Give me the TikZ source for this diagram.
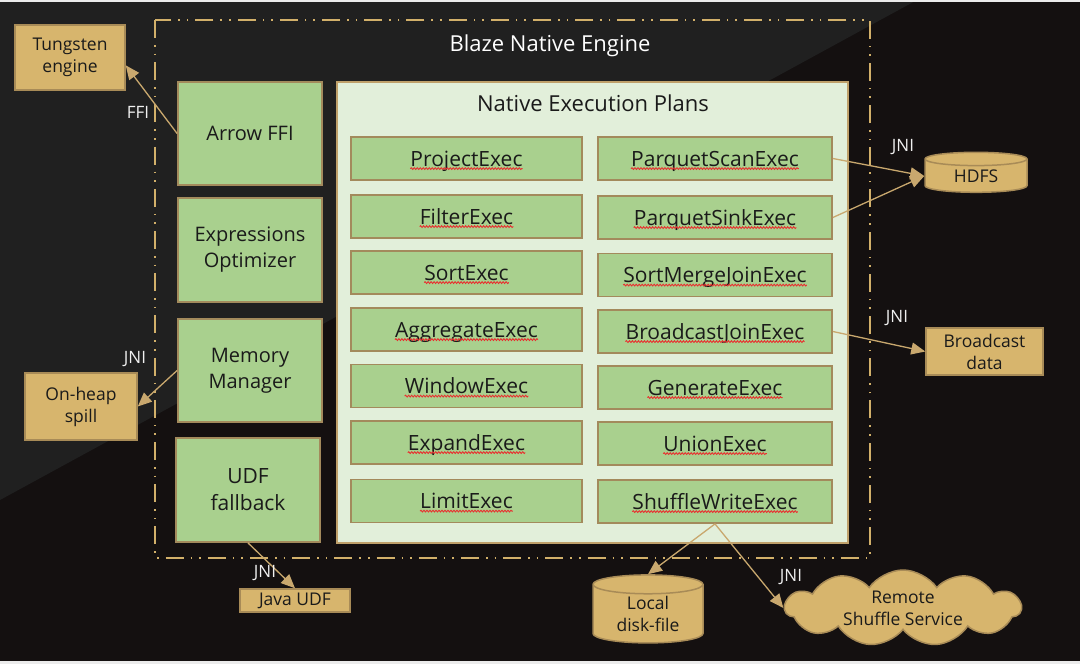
\documentclass[tikz,border=0pt]{standalone}
\usepackage{fontspec}
\setmainfont{Open Sans}
\usetikzlibrary{shapes.geometric,shapes.symbols,arrows.meta,decorations.pathmorphing,calc}
\definecolor{bgdark}{HTML}{141010}
\definecolor{bglight}{HTML}{202020}
\definecolor{tanline}{HTML}{C9A86E}
\definecolor{tanfill}{HTML}{D7B56D}
\definecolor{tanborder}{HTML}{A88B57}
\definecolor{gfill}{HTML}{A9D08E}
\definecolor{gborder}{HTML}{A38A5C}
\definecolor{panelfill}{HTML}{E2EFDA}
\definecolor{panelborder}{HTML}{BFA06A}
\definecolor{frame}{HTML}{D2B06A}
\definecolor{txt}{HTML}{1A1A1A}
\definecolor{lbl}{HTML}{F0F0F0}
\definecolor{squigred}{HTML}{E83030}
\newcommand\execnode[3]{%
  \node[ebox] (#1) at (#2) {};
  \node[etext] (#1-t) at (#1.center) {#3};
  \draw[squig] ([yshift=-2.6pt]#1-t.base west) -- ([yshift=-2.6pt]#1-t.base east);
}
\tikzset{
  gbox/.style={draw=gborder, fill=gfill, line width=1.8pt, minimum width=144pt, minimum height=103pt, inner sep=0pt, align=center, text=txt, font=\fontsize{20}{26}\selectfont},
  ebox/.style={draw=gborder, fill=gfill, line width=1.8pt, minimum height=43pt, inner sep=0pt},
  etext/.style={inner sep=0pt, text=txt, font=\fontsize{21}{25}\selectfont, text height=15pt, text depth=0pt},
  squig/.style={draw=squigred, line width=0.9pt, decorate, decoration={snake, amplitude=0.9pt, segment length=3pt}},
  tbox/.style={draw=tanborder, fill=tanfill, line width=1.5pt, inner sep=0pt, align=center, text=txt, font=\fontsize{17.5}{22}\selectfont},
  conn/.style={draw=tanline, line width=1.3pt, -{Triangle[length=14pt,width=12pt]}},
  lab/.style={text=lbl, font=\fontsize{17}{20}\selectfont, inner sep=0pt},
  enginebox/.style={draw=frame, line width=1.6pt, dash pattern=on 18pt off 7pt on 1.6pt off 7pt on 1.6pt off 7pt},
}
\begin{document}
\begin{tikzpicture}[x=1pt,y=-1pt]
\useasboundingbox (0,0) rectangle (1080,664);
% background
\fill[bgdark] (0,0) rectangle (1080,664);
\fill[bglight] (0,0) -- (917,0) -- (0,500) -- cycle;
\fill[white!92!black] (0,0) rectangle (1080,1.5);
\fill[white!92!black] (0,661) rectangle (1080,664);
% engine frame
\draw[enginebox] (155,20) rectangle (870,558);
\node[text=white, font=\fontsize{22}{26}\selectfont] (title) at (550,46) {Blaze Native Engine};
% panel
\node[draw=panelborder, fill=panelfill, line width=1.8pt, minimum width=511pt, minimum height=461pt, inner sep=0pt] (panel) at (592.5,312.5) {};
\node[text=txt, font=\fontsize{22}{26}\selectfont] (ptitle) at (593,103) {Native Execution Plans};
% left column
\node[gbox] (affi) at (250,133.5) {Arrow FFI};
\node[gbox, minimum height=104pt] (expr) at (250,250) {Expressions\\Optimizer};
\node[gbox] (mem) at (250,370.5) {Memory\\Manager};
\node[gbox, minimum height=104pt, font=\fontsize{21}{27}\selectfont] (udf) at (248,490) {UDF\\fallback};
% exec nodes
\tikzset{ebox/.append style={minimum width=231pt}}
\execnode{proj}{466.5,158.5}{ProjectExec}
\execnode{filt}{466.5,216.5}{FilterExec}
\execnode{sort}{466.5,272.5}{SortExec}
\execnode{aggr}{466.5,329.5}{AggregateExec}
\execnode{wind}{466.5,386}{WindowExec}
\execnode{expa}{466.5,442.5}{ExpandExec}
\execnode{limi}{466.5,501}{LimitExec}
\tikzset{ebox/.append style={minimum width=234pt}}
\execnode{pscan}{715,158.5}{ParquetScanExec}
\execnode{psink}{715,217.5}{ParquetSinkExec}
\execnode{smj}{715,275}{SortMergeJoinExec}
\execnode{bcj}{715,331.5}{BroadcastJoinExec}
\execnode{gene}{715,387.5}{GenerateExec}
\execnode{unio}{715,443.5}{UnionExec}
\execnode{shuf}{715,501.5}{ShuffleWriteExec}
% external nodes
\node[tbox, minimum width=110pt, minimum height=65pt] (tung) at (70,57.5) {Tungsten\\engine};
\node[tbox, minimum width=112pt, minimum height=67pt] (spill) at (81,406.5) {On-heap\\spill};
\node[tbox, minimum width=110pt, minimum height=23pt] (judf) at (295,600.5) {Java UDF};
\node[tbox, minimum width=117pt, minimum height=47pt] (bdata) at (984.5,351.5) {Broadcast\\data};
\node[tbox, cylinder, shape border rotate=90, aspect=0.3, minimum width=102pt, minimum height=40pt] (hdfs) at (976,176) {HDFS};
\node[tbox, cylinder, shape border rotate=90, aspect=0.3, minimum width=110pt, minimum height=68pt] (disk) at (648,614) {Local\\disk-file};
\node[tbox, cloud, cloud puffs=11, cloud puff arc=110, aspect=3.2, minimum width=236pt, minimum height=76pt] (rss) at (903,608) {Remote\\Shuffle Service};
% connectors
\draw[conn] (affi.west) -- (tung.-8);
\draw[conn] (mem.west) -- (spill.east);
\draw[conn] (udf.south) -- (judf.north);
\draw[conn] (shuf.south) -- (disk.north);
\draw[conn] (shuf.south) -- (rss.west);
\draw[conn] (pscan.east) -- (hdfs.west);
\draw[conn] (psink.east) -- (hdfs.west);
\draw[conn] (bcj.east) -- (bdata.west);
% labels
\node[lab] (lffi) at (138,112) {FFI};
\node[lab] (ljni1) at (135,359) {JNI};
\node[lab] (ljni2) at (265,573) {JNI};
\node[lab] (ljni3) at (791,577) {JNI};
\node[lab] (ljni4) at (903,147) {JNI};
\node[lab] (ljni5) at (897,318) {JNI};
\end{tikzpicture}
\end{document}
